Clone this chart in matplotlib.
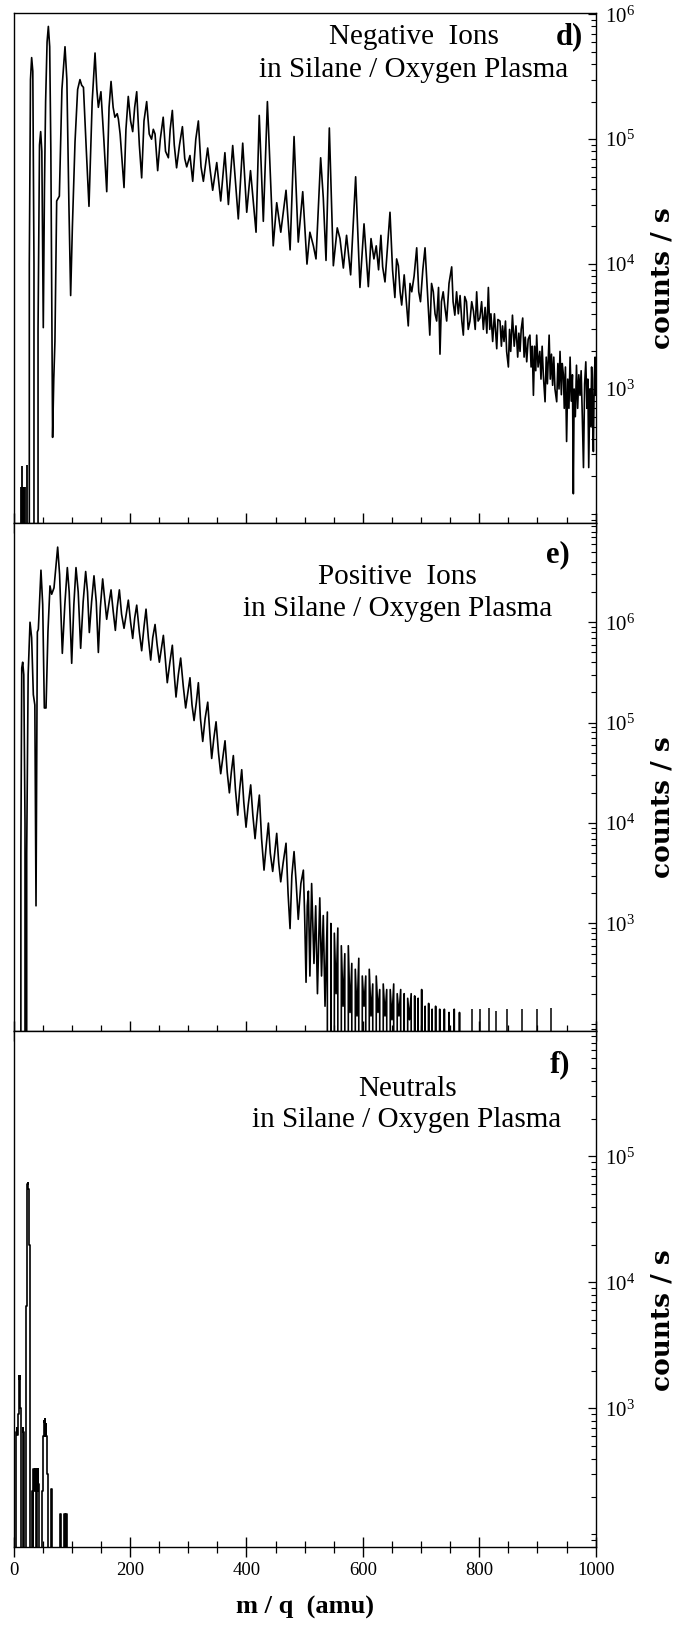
import numpy as np
import matplotlib
matplotlib.use("Agg")
import matplotlib.pyplot as plt
from matplotlib.ticker import MultipleLocator, LogLocator, NullFormatter, FixedLocator

plt.rcParams['font.family'] = ['Liberation Serif', 'DejaVu Serif']
plt.rcParams['mathtext.fontset'] = 'stix'

# --- d) negative ions (m/q in amu, counts/s; 0 = nothing detected) ---
neg_bar_mz = [13, 14, 15, 16, 17, 18, 19, 23]
neg_bar_counts = [165, 165, 240, 165, 165, 165, 165, 245]

neg_mz = [25, 27, 29, 31, 33, 35, 37.5, 39.5, 42, 44.5, 46.5, 48.5, 51, 53, 55, 57.5, 59.7, 62, 64, 67,
          69, 71, 74, 78.6, 83, 88.3, 91.5, 95, 98, 101, 105.5, 110, 114, 117, 120, 125, 129.5, 135, 139.9, 143,
          145.6, 150, 155, 160, 164, 167.4, 171, 174, 178, 180, 183, 189.7, 193, 197, 201, 204.6, 208, 211.5, 216, 220,
          224, 228.6, 233, 237, 240, 243, 247.5, 252, 257, 261, 265.9, 269, 272.7, 276, 280, 285, 290, 294, 297.4, 303,
          307.7, 313, 317.4, 322, 326, 333.4, 338, 342, 349, 355.8, 363, 369, 376.4, 386, 393.6, 400.5, 407, 416.5, 422, 429,
          436, 446, 452, 459, 468, 475, 481.8, 489, 496.7, 504, 509, 515, 519.5, 527.5, 532, 536.7, 542.4, 549.3, 556, 560.7,
          566.5, 572, 579, 587.6, 595, 602, 609.4, 614, 619, 623, 627, 631, 634, 638, 642, 646.6, 651, 655, 658, 661,
          664, 666.7, 671, 674, 678, 681, 684, 688, 692.5, 696, 699, 703, 706.8, 711, 715, 718, 721, 724, 726.8, 730,
          732.5, 735, 738, 741, 744, 748, 752.6, 755, 758, 761, 764, 767, 770, 772.6, 775, 778, 781, 784, 787, 790,
          793, 795.5, 798, 801, 804, 807, 810, 813, 815.6, 818, 820, 823, 826, 830, 832, 835.6, 838, 840, 842.5, 845,
          847, 850, 852, 854, 857, 860, 863, 866, 868, 870, 872, 874.6, 877, 879, 881.5, 884, 887, 889, 891, 893,
          895, 897, 898.6, 901, 904, 906, 908, 910, 913, 915, 917, 920, 922, 924, 926, 928, 930, 933, 935, 937,
          938.7, 941, 942.5, 944.5, 946, 948, 950, 952, 954, 956, 958, 960, 961.6, 963, 965, 967, 969, 971, 973, 975,
          977, 979, 981, 983, 985, 986.5, 988, 990, 991.5, 993, 994.5, 996, 997.5, 999, 1000]
neg_counts = [0, 1.0e4, 3.0e5, 4.5e5, 3.5e5, 1.0e4, 0, 0, 3.0e3, 9.0e4, 1.15e5, 8.0e4, 3.1e3, 4.0e4, 2.0e5, 6.0e5, 8.0e5, 5.5e5, 8.0e4, 4.1e2,
              1.2e3, 2.4e3, 3.2e4, 3.5e4, 2.5e5, 5.5e5, 3.0e5, 3.0e4, 5.6e3, 2.0e4, 9.5e4, 2.5e5, 3.0e5, 2.7e5, 2.6e5, 8.0e4, 2.9e4, 2.0e5, 4.9e5, 2.5e5,
              1.8e5, 2.4e5, 1.0e5, 3.8e4, 1.8e5, 2.9e5, 1.8e5, 1.5e5, 1.6e5, 1.45e5, 1.1e5, 4.1e4, 1.2e5, 2.2e5, 1.4e5, 1.15e5, 1.8e5, 2.4e5, 9.0e4, 4.9e4,
              1.4e5, 2.0e5, 1.1e5, 1.0e5, 1.2e5, 1.1e5, 5.6e4, 1.0e5, 1.5e5, 8.0e4, 7.1e4, 1.2e5, 1.7e5, 9.0e4, 5.9e4, 9.0e4, 1.26e5, 7.0e4, 6.0e4, 7.4e4,
              4.6e4, 1.0e5, 1.4e5, 6.0e4, 4.6e4, 8.5e4, 5.5e4, 3.9e4, 6.5e4, 3.2e4, 7.8e4, 3.0e4, 8.9e4, 2.3e4, 9.3e4, 2.6e4, 5.6e4, 1.8e4, 1.55e5, 2.2e4,
              2.0e5, 1.4e4, 3.1e4, 1.8e4, 3.9e4, 1.3e4, 1.05e5, 1.5e4, 3.8e4, 1.0e4, 1.8e4, 1.4e4, 1.1e4, 7.1e4, 3.4e4, 1.07e4, 1.23e5, 9.7e3, 1.95e4, 1.6e4,
              9.3e3, 1.7e4, 8.2e3, 5.0e4, 6.5e3, 2.1e4, 6.6e3, 1.6e4, 1.1e4, 1.4e4, 9.0e3, 1.7e4, 9.5e3, 7.2e3, 1.3e4, 2.6e4, 9.0e3, 5.4e3, 1.1e4, 9.7e3,
              6.0e3, 4.7e3, 8.2e3, 5.5e3, 3.2e3, 7.0e3, 6.0e3, 8.0e3, 1.35e4, 6.0e3, 5.0e3, 9.0e3, 1.35e4, 6.0e3, 2.7e3, 7.0e3, 6.0e3, 4.0e3, 3.5e3, 6.5e3,
              1.9e3, 5.0e3, 6.0e3, 4.5e3, 3.5e3, 7.0e3, 9.5e3, 5.0e3, 3.9e3, 6.0e3, 4.0e3, 5.6e3, 3.5e3, 2.7e3, 5.5e3, 5.0e3, 3.0e3, 3.5e3, 5.0e3, 4.2e3,
              3.0e3, 6.0e3, 3.5e3, 3.7e3, 5.0e3, 3.0e3, 4.5e3, 2.8e3, 6.5e3, 3.0e3, 4.0e3, 2.4e3, 4.0e3, 2.1e3, 3.6e3, 3.5e3, 2.2e3, 3.2e3, 2.4e3, 3.5e3,
              2.0e3, 1.5e3, 3.0e3, 2.0e3, 3.9e3, 2.2e3, 3.2e3, 1.8e3, 2.8e3, 2.0e3, 3.0e3, 3.7e3, 1.8e3, 2.6e3, 1.65e3, 2.5e3, 2.7e3, 1.5e3, 2.2e3, 8.9e2,
              2.2e3, 1.4e3, 2.7e3, 1.5e3, 2.0e3, 1.2e3, 2.2e3, 1.3e3, 7.9e2, 1.8e3, 1.1e3, 2.7e3, 1.2e3, 1.9e3, 1.07e3, 1.8e3, 1.0e3, 7.9e2, 1.6e3, 1.0e3,
              2.0e3, 9.0e2, 1.6e3, 1.3e3, 7.0e2, 1.5e3, 3.8e2, 1.2e3, 7.0e2, 1.8e3, 8.0e2, 1.3e3, 1.45e2, 1.0e3, 6.0e2, 1.55e3, 7.0e2, 1.3e3, 8.9e2, 1.4e3,
              6.0e2, 2.35e2, 1.1e3, 1.65e3, 7.0e2, 1.2e3, 2.35e2, 1.0e3, 5.0e2, 1.5e3, 8.0e2, 3.16e2, 1.2e3, 1.8e3, 9.0e2]

# --- e) positive ions ---
pos_mz = [10, 11, 12.5, 14, 15.6, 17.5, 19.6, 20.7, 21.5, 22.5, 25, 28.2, 31, 33.9, 36.5, 38.5, 40.8, 42.5, 47, 50,
          52.8, 55.7, 59, 62.5, 65.4, 69.4, 75.7, 79, 83.7, 88, 92.3, 95.5, 99.8, 103.5, 107.2, 111, 115.2, 119.5, 123.8, 127,
          130.1, 134, 138.1, 142, 145.6, 149, 153, 156.5, 159.9, 163.5, 167.4, 171, 174.8, 178, 181.7, 185.5, 189.7, 193.5, 197.1, 201,
          204.6, 208, 211.5, 216, 220, 224, 227.5, 231.5, 235.5, 239, 243, 246.5, 250.4, 254, 257.3, 261, 264, 268.5, 272.7, 276,
          279, 283, 287, 291.5, 295.6, 299.5, 303, 306.5, 310, 314, 317.4, 321, 324.9, 329, 333.5, 337, 340.3, 344, 347.8, 352,
          355.8, 359.5, 363.2, 367, 370.7, 374, 377.5, 381, 385, 388.5, 391.9, 395.5, 399.3, 403, 407.3, 411, 414.8, 418.5, 422.2, 426,
          430.2, 434, 437.7, 441, 445.1, 448.5, 452, 455.5, 458.9, 463, 468, 471.5, 474.9, 478, 481.8, 485.5, 489, 493.5, 497.8, 500,
          502.4, 504.5, 506.4, 509, 512, 516, 519, 522, 526, 529, 532, 535, 539, 542, 545, 548, 551, 554, 557, 560,
          563, 566, 569, 572, 575, 578, 581, 584, 587, 590, 593, 596, 599, 602, 605, 608, 611, 614, 617, 620,
          623, 626, 629, 632, 635, 638, 641, 644, 647, 650, 653, 656, 659, 662, 665, 668, 671, 674, 677, 680,
          683, 686, 689, 692, 695, 698, 701, 704, 707, 710, 713, 716, 719, 722, 725, 728, 732, 735, 740, 743,
          748, 751, 757, 760, 766, 769]
pos_counts = [0, 0, 5.0e3, 3.5e5, 4.0e5, 3.0e5, 1.0e4, 0, 0, 5.0e3, 3.0e5, 1.0e6, 7.0e5, 1.9e5, 1.5e5, 1.5e3, 8.0e5, 8.5e5, 3.3e6, 1.5e6,
              1.4e5, 1.4e5, 8.0e5, 2.3e6, 1.9e6, 2.2e6, 5.6e6, 3.0e6, 4.9e5, 1.5e6, 3.5e6, 2.0e6, 3.9e5, 1.5e6, 3.5e6, 2.0e6, 5.5e5, 1.6e6, 3.2e6, 2.0e6,
              7.9e5, 1.6e6, 2.9e6, 1.6e6, 5.0e5, 1.4e6, 2.7e6, 1.7e6, 1.07e6, 1.5e6, 2.1e6, 1.3e6, 8.3e5, 1.4e6, 2.1e6, 1.2e6, 8.7e5, 1.2e6, 1.66e6, 1.0e6,
              6.9e5, 1.1e6, 1.48e6, 8.0e5, 5.2e5, 9.0e5, 1.35e6, 7.0e5, 4.2e5, 7.0e5, 9.5e5, 6.0e5, 4.0e5, 5.5e5, 7.4e5, 4.0e5, 2.5e5, 4.0e5, 5.9e5, 3.0e5,
              1.8e5, 3.0e5, 4.4e5, 2.3e5, 1.4e5, 2.0e5, 2.8e5, 1.5e5, 1.05e5, 1.6e5, 2.5e5, 1.1e5, 6.5e4, 1.1e5, 1.6e5, 8.0e4, 4.4e4, 7.0e4, 1.02e5, 5.0e4,
              3.1e4, 4.5e4, 6.6e4, 3.2e4, 2.0e4, 3.2e4, 4.7e4, 2.2e4, 1.2e4, 2.2e4, 3.4e4, 1.6e4, 9.1e3, 1.5e4, 2.4e4, 1.2e4, 7.0e3, 1.2e4, 1.9e4, 7.0e3,
              3.4e3, 6.0e3, 1.0e4, 5.0e3, 3.3e3, 5.0e3, 7.9e3, 4.0e3, 2.6e3, 4.0e3, 6.3e3, 2.0e3, 8.9e2, 3.0e3, 5.2e3, 2.5e3, 1.1e3, 2.5e3, 3.4e3, 1.2e3,
              2.6e2, 1.5e3, 2.1e3, 3.0e2, 2.5e3, 4.0e2, 1.5e3, 2.0e2, 1.8e3, 3.0e2, 1.2e3, 1.5e2, 1.3e3, 0, 1.0e3, 0, 8.0e2, 2.0e2, 9.0e2, 0,
              6.0e2, 1.5e2, 5.0e2, 0, 6.0e2, 1.3e2, 4.0e2, 0, 3.5e2, 1.2e2, 4.5e2, 0, 3.0e2, 1.5e2, 3.0e2, 0, 3.5e2, 1.2e2, 2.5e2, 0,
              3.0e2, 1.3e2, 2.2e2, 0, 2.5e2, 1.2e2, 2.2e2, 0, 2.2e2, 1.1e2, 2.5e2, 0, 2.0e2, 1.2e2, 2.2e2, 0, 2.0e2, 0, 1.8e2, 1.1e2,
              2.0e2, 0, 1.9e2, 0, 1.8e2, 0, 2.2e2, 0, 1.5e2, 0, 1.6e2, 0, 1.4e2, 0, 1.5e2, 0, 1.4e2, 0, 1.4e2, 0,
              1.3e2, 0, 1.4e2, 0, 1.3e2, 0]
pos_spike_mz = [787, 802, 817, 828, 847, 874, 900, 923]
pos_spike_counts = [140, 140, 145, 135, 140, 140, 140, 145]

# --- f) neutrals ---
neu_mz = [4, 5, 6, 7, 8, 9, 10, 11, 12, 13, 14, 15, 16, 17, 18, 20, 21, 22, 23, 24,
          25, 26, 27, 28, 31, 32, 33, 34, 35, 36, 37, 38, 39, 40, 41, 42, 43, 44, 49, 50,
          51, 52, 53, 54, 55, 56, 57, 58, 59, 64, 65, 66, 80, 81, 82, 86, 87, 88, 90, 91, 92]
neu_counts = [0, 650, 700, 620, 900, 1800, 1700, 1800, 1000, 650, 0, 0, 700, 650, 0, 0, 1200, 6500, 40000, 60000,
              62000, 55000, 20000, 0, 0, 220, 0, 330, 330, 220, 330, 300, 0, 330, 220, 330, 250, 0, 0, 220,
              600, 800, 780, 820, 600, 750, 600, 300, 0, 0, 230, 0, 0, 145, 0, 0, 145, 0, 0, 145, 0]

panel_titles = [("Negative  Ions", "d)"), ("Positive  Ions", "e)"), ("Neutrals", "f)")]
subtitle = "in Silane / Oxygen Plasma"
# decades that carry a label on each panel
labelled_decades = [[1e3, 1e4, 1e5, 1e6], [1e3, 1e4, 1e5, 1e6], [1e3, 1e4, 1e5]]

W, H = 687, 1627
fig = plt.figure(figsize=(W / 100, H / 100), dpi=100)

def panel(top, bottom):
    return fig.add_axes([13.6 / W, 1 - bottom / H, 582.1 / W, (bottom - top) / H])

ax1 = panel(12.7, 522.7)
ax2 = panel(522.7, 1031)
ax3 = panel(1031, 1546.7)
axes = [ax1, ax2, ax3]

ylims = [(85, 1.03e6), (85, 9.8e6), (80, 9.9e5)]
for ax, yl, majors in zip(axes, ylims, labelled_decades):
    ax.set_yscale('log', nonpositive='clip')
    ax.set_xlim(0, 1000)
    ax.set_ylim(*yl)
    ax.yaxis.tick_right()
    ax.yaxis.set_major_locator(FixedLocator(majors))
    ax.yaxis.set_minor_locator(LogLocator(base=10, subs=np.arange(1, 10)))
    ax.yaxis.set_minor_formatter(NullFormatter())
    ax.xaxis.set_major_locator(MultipleLocator(200))
    ax.xaxis.set_minor_locator(MultipleLocator(50))
    ax.tick_params(axis='x', which='major', direction='inout', length=14, width=1.0, top=False, labelsize=13.5, pad=4)
    ax.tick_params(axis='x', which='minor', direction='inout', length=8, width=0.9, top=False)
    ax.tick_params(axis='y', which='major', direction='in', length=6, width=0.9, left=False, right=True,
                   labelleft=False, labelright=True, labelsize=15, pad=7)
    ax.tick_params(axis='y', which='minor', direction='in', length=3.5, width=0.8, left=False, right=True)
    for sp in ax.spines.values():
        sp.set_linewidth(1.0)

ax1.tick_params(axis='x', labelbottom=False)
ax2.tick_params(axis='x', labelbottom=False)

ax1.plot(neg_mz, neg_counts, color='black', lw=1.2)
ax1.vlines(neg_bar_mz, 1, neg_bar_counts, color='black', lw=1.3)

ax2.plot(pos_mz, pos_counts, color='black', lw=1.2)
ax2.vlines(pos_spike_mz, 1, pos_spike_counts, color='black', lw=1.1)

ax3.plot(neu_mz, neu_counts, color='black', lw=1.2, drawstyle='steps-mid')

# panel annotations (axes fractions)
txt_pos = [(0.688, 0.9386, 0.874), (0.659, 0.879, 0.8165), (0.676, 0.874, 0.814)]
letter_y = [0.9386, 0.9227, 0.9205]
label_y = [0.48, 0.44, 0.44]
for ax, (t1, tag), (cx, y1, y2), ly, lab_y in zip(axes, panel_titles, txt_pos, letter_y, label_y):
    ax.text(cx, y1, t1, transform=ax.transAxes, ha='center', va='baseline', fontsize=21)
    ax.text(cx, y2, subtitle, transform=ax.transAxes, ha='center', va='baseline', fontsize=21)
    ax.text(0.978 if tag == "d)" else 0.956, ly, tag, transform=ax.transAxes, ha='right', va='baseline',
            fontsize=22, fontweight='bold')
    ax.yaxis.set_label_position('right')
    ax.set_ylabel('counts / s', fontsize=19, fontweight='bold', family=['DejaVu Serif'],
                  rotation=90, ha='center', va='center')
    ax.yaxis.set_label_coords(1.114, lab_y)

ax3.set_xlabel('m / q  (amu)', fontsize=19, fontweight='bold', labelpad=12)

fig.savefig('out.png', dpi=100)
